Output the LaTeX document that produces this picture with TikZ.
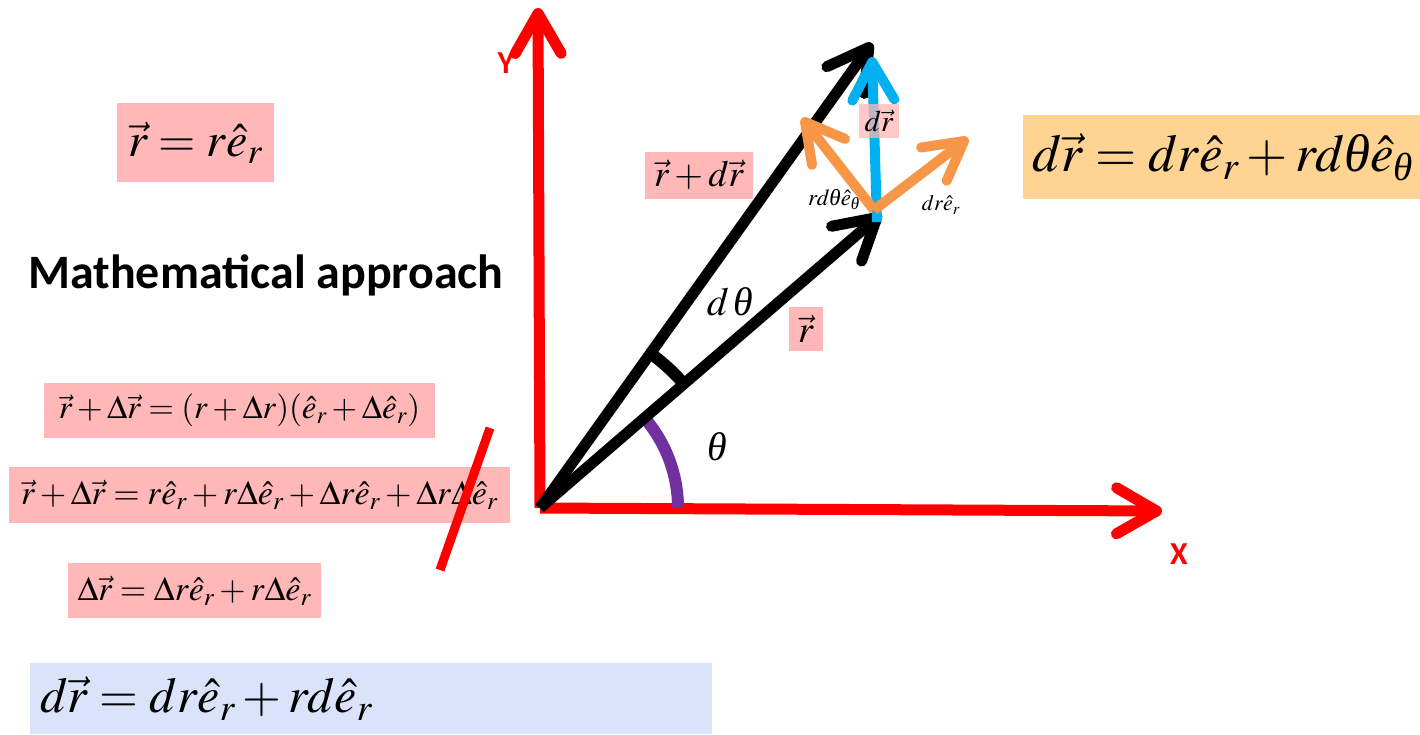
\documentclass[tikz,border=0pt]{standalone}
\usepackage{amsmath}
\usepackage{mathptmx}
\usepackage{fontspec}
\setmainfont{Liberation Serif}
\newfontfamily\calibri{Carlito}
\usetikzlibrary{arrows.meta,positioning}
\definecolor{eqpink}{RGB}{255,183,183}
\definecolor{eqorange}{RGB}{255,211,145}
\definecolor{eqblue}{RGB}{218,227,250}
\definecolor{vecorange}{RGB}{247,150,70}
\definecolor{vecblue}{RGB}{0,176,240}
\definecolor{anglepurple}{RGB}{112,48,160}
\newcommand{\vth}{\text{\itshape θ}}
\tikzset{
    vec/.style={line width=11pt,-{Straight Barb[round,length=40pt,width=46pt]}},
    thinvec/.style={line width=10pt,-{Straight Barb[round,length=38pt,width=42pt]}},
    axis/.style={vec,red},
    axislbl/.style={text=red,font=\calibri\bfseries\fontsize{32}{32}\selectfont,inner sep=0pt},
    eqbox/.style={fill=eqpink,inner sep=0pt,font=\fontsize{34}{34}\selectfont},
    lbl/.style={inner sep=0pt,font=\fontsize{40}{40}\selectfont}
}

\begin{document}
\begin{tikzpicture}[x=1pt,y=-1pt]
    \useasboundingbox (0,0) rectangle (1420,734);
    % points of the figure
    \coordinate (O) at (540,508);
    \coordinate (Ytip) at (538,8);
    \coordinate (Xtip) at (1162,511);
    \coordinate (R) at (881,214);
    \coordinate (RdR) at (872,43);
    \coordinate (B0) at (877,222);
    \coordinate (Btip) at (872,57);
    \coordinate (Ob) at (874,210);
    \coordinate (Eth) at (802,118);
    \coordinate (Er) at (968,138);
    \coordinate (S1) at (490,428);
    \coordinate (S2) at (440,570);

    % axes
    \draw[axis] (O) -- (Ytip);
    \draw[axis] (O) -- (Xtip);
    \node[axislbl] (Ylbl) at (506,63) {Y};
    \node[axislbl] (Xlbl) at (1179,554) {X};

    % angles
    \draw[anglepurple,line width=12pt] (O) ++(0:138) arc[start angle=0,end angle=-40.8,radius=138];
    \draw[black,line width=12pt] (O) ++(-40.8:190) arc[start angle=-40.8,end angle=-54.5,radius=190];
    \node[lbl] (th) at (717,447) {$\vth$};
    \node[lbl] (dth) at (730,302) {$d\,\vth$};

    % vectors
    \draw[vec] (O) -- (R);
    \draw[vec] (O) -- (RdR);
    \draw[thinvec,vecblue] (B0) -- (Btip);
    \draw[thinvec,vecorange] (Ob) -- (Eth);
    \draw[thinvec,vecorange] (Ob) -- (Er);

    % labels on the vectors
    \node[eqbox,minimum width=34pt,minimum height=44pt,font=\fontsize{38}{38}\selectfont] (rlbl) at (806,329) {$\vec r$};
    \node[eqbox,minimum width=108pt,minimum height=47pt,font=\fontsize{37}{37}\selectfont] (rdrlbl) at (699,175) {$\vec r+d\vec r$};
    \node[eqbox,fill opacity=0.75,text opacity=1,minimum width=40pt,minimum height=34pt,font=\fontsize{30}{30}\selectfont] (drlbl) at (879,121) {$d\vec r$};
    \node[lbl,font=\fontsize{23}{23}\selectfont] (ethlbl) at (834,200) {$rd\vth\hat e_\vth$};
    \node[lbl,font=\fontsize{22}{22}\selectfont] (erlbl) at (941,205) {$dr\hat e_r$};

    % equations
    \node[eqbox,minimum width=157pt,minimum height=79pt,font=\fontsize{48}{48}\selectfont] (pos) at (195.5,142.5) {$\vec r=r\hat e_r$};
    \node[inner sep=0pt,font=\calibri\bfseries\fontsize{48}{48}\selectfont] (title) at (266,275) {Mathematical approach};
    \node[eqbox,minimum width=391pt,minimum height=55pt,font=\fontsize{33}{33}\selectfont] (eqa) at (239.5,410.5) {$\vec r+\Delta\vec r=(r+\Delta r)(\hat e_r+\Delta\hat e_r)$};
    \node[eqbox,minimum width=501pt,minimum height=56pt] (eqb) at (259.5,495) {$\vec r+\Delta\vec r=r\hat e_r+r\Delta\hat e_r+\Delta r\hat e_r+\Delta r\Delta\hat e_r$};
    \node[eqbox,minimum width=253pt,minimum height=55pt] (eqc) at (194.5,590.5) {$\Delta\vec r=\Delta r\hat e_r+r\Delta\hat e_r$};
    \draw[red,line width=9pt] (S1) -- (S2);
    \node[eqbox,fill=eqblue,anchor=west,minimum height=71pt,text width=662pt,inner xsep=10pt,font=\fontsize{50}{50}\selectfont] (drA) at (30,698.5) {$d\vec r=dr\hat e_r+rd\hat e_r$};
    \node[eqbox,fill=eqorange,anchor=west,minimum height=84pt,text width=388pt,inner xsep=9pt,font=\fontsize{53}{53}\selectfont] (drB) at (1023,157) {$d\vec r=dr\hat e_r+rd\vth\hat e_\vth$};
\end{tikzpicture}
\end{document}
